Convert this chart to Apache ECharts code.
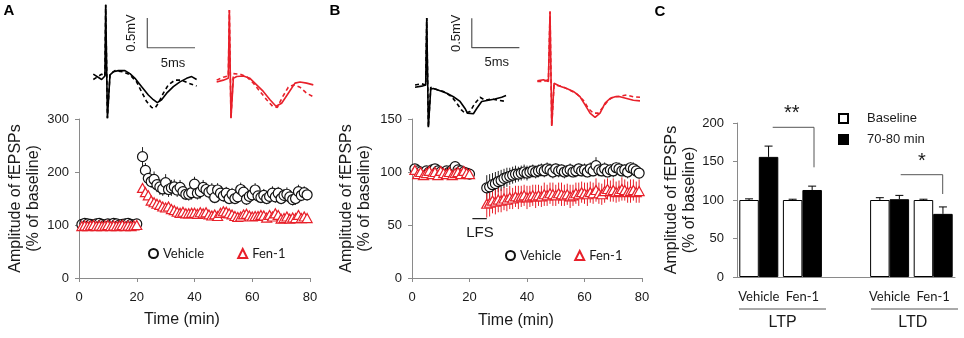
<!DOCTYPE html>
<html><head><meta charset="utf-8">
<script src="https://cdn.jsdelivr.net/npm/echarts@6/dist/echarts.min.js"></script>
<style>html,body{margin:0;padding:0;background:#fff}#c{width:964px;height:338px}</style>
</head><body><div id="c"></div>
<script>
// ---------------- DATA ----------------
const timeBaseline = [1,2,3,4,5,6,7,8,9,10,11,12,13,14,15,16,17,18,19,20];
const timePostA = [22,23,24,25,26,27,28,29,30,31,32,33,34,35,36,37,38,39,40,41,42,43,44,45,46,47,48,49,50,51,52,53,54,55,56,57,58,59,60,61,62,63,64,65,66,67,68,69,70,71,72,73,74,75,76,77,78,79];
const timePostB = [26,27,28,29,30,31,32,33,34,35,36,37,38,39,40,41,42,43,44,45,46,47,48,49,50,51,52,53,54,55,56,57,58,59,60,61,62,63,64,65,66,67,68,69,70,71,72,73,74,75,76,77,78,79];

// Panel A (LTP)
const vehA_base = [101,103,102,101,100,102,103,101,100,102,101,103,102,100,101,102,103,101,100,102];
const vehA_post = [229,203,188,182,186,176,172,168,180,167,
  170,172,166,171,163,158,158,161,177,160,
  163,171,167,162,166,152,166,160,155,160,
  150,158,150,153,167,162,149,154,157,166,
  155,152,156,150,154,160,153,160,150,156,
  158,153,148,150,163,156,161,157];
const vehA_baseErr = [3,4,3,3,4,3,3,4,3,3,4,3,3,4,3,3,4,3,3,4];
const vehA_postErr = [18,14,13,12,15,14,15,13,16,14,
  15,14,13,14,12,11,12,13,14,12,
  13,14,13,12,13,11,13,12,11,12,
  11,12,11,11,13,12,11,12,11,13,
  12,11,12,11,12,13,11,12,11,12,
  13,11,11,12,13,11,12,11];
const fenA_base = [98,99,98,99,100,98,99,98,99,100,98,99,98,99,100,98,99,98,99,100];
const fenA_post = [170,162,156,146,143,140,138,135,133,135,
  130,128,125,123,125,122,122,123,123,121,
  124,122,124,120,118,120,117,123,126,125,
  122,120,117,115,116,120,121,118,116,117,
  117,119,118,114,119,116,122,119,112,113,
  116,112,114,113,119,113,116,113];
const fenA_baseErr = [3,2,3,3,2,3,3,2,3,3,2,3,3,2,3,3,2,3,3,2];
const fenA_postErr = [8,7,6,6,6,5,6,5,5,6,
  5,5,6,5,5,6,5,5,6,5,
  5,6,5,5,6,5,5,6,5,5,
  6,5,5,6,5,5,6,5,5,6,
  5,5,6,5,5,6,5,5,6,5,
  5,6,5,5,6,5,5,6];

// Panel B (LTD)
const vehB_base = [103,101,100,99,101,100,102,103,101,100,99,101,100,102,105,102,101,100,99,98];
const vehB_post = [85,86,88,89,91,92,94,95,96,97,
  98,98,99,100,99,100,101,100,101,102,
  101,103,102,100,103,101,102,100,101,102,
  100,101,103,101,102,100,103,101,106,102,
  101,103,100,102,101,104,103,101,102,100,
  104,103,101,99];
const vehB_baseErr = [3,2,3,2,3,2,3,2,3,2,3,2,3,2,4,3,2,3,2,3];
const vehB_postErr = [12,12,11,11,10,10,9,9,8,8,
  8,7,7,7,7,6,6,6,6,6,
  6,6,6,6,5,6,5,6,5,6,
  5,6,5,5,6,5,6,5,8,6,
  5,6,5,5,6,5,6,5,5,6,
  5,6,5,5];
const fenB_base = [102,98,100,97,99,101,98,100,97,101,99,98,100,97,99,100,98,101,99,98];
const fenB_post = [70,71,73,72,74,73,75,74,76,75,
  77,76,77,78,76,77,78,77,78,77,
  79,78,80,79,78,80,79,78,79,77,
  78,80,79,81,80,79,81,80,83,80,
  79,82,84,82,83,81,82,84,83,81,
  82,83,81,82];
const fenB_baseErr = [4,3,4,3,4,3,4,3,4,3,4,3,4,3,4,3,4,3,4,3];
const fenB_postErr = [13,13,12,12,12,11,11,11,11,10,
  10,11,10,10,11,10,10,11,10,10,
  11,10,10,11,10,10,11,10,10,11,
  10,10,11,10,10,11,10,10,11,10,
  10,11,10,10,11,10,10,11,10,10,
  11,10,10,11];
const lfsTime = [21, 26];
const lfsLevel = [56, 56];

// Panel C (summary bars)
const catsC = ['Vehicle','Fen-1','','Vehicle','Fen-1'];
const baselineC = [100,100,null,100,100];
const baselineErrC = [1.5,1,null,3,1];
const lateC = [156,113,null,101,82];
const lateErrC = [14,5,null,5,9];

// Axis ticks
const ticksA = [0,100,200,300];
const ticksB = [0,50,100,150];
const ticksC = [0,50,100,150,200];
const ticksTime = [0,20,40,60,80];

// Example fEPSP traces, [time (ms), voltage (mV)]
const trA_veh_solid = [[0,0.03],[0.87,-0.06],[1.22,0],[1.30,1.20],[1.48,-0.71],[1.75,0.02],[2.10,0.07],[2.62,0.09],[3.32,0.09],[3.84,0.04],[4.37,-0.04],[5.07,-0.18],[5.77,-0.32],[6.29,-0.40],[6.71,-0.45],[7.16,-0.40],[7.69,-0.29],[8.39,-0.18],[9.08,-0.10],[9.78,-0.04],[10.31,-0.01],[10.83,-0.06]];
const trA_veh_dash = [[0,-0.06],[0.87,0.03],[1.22,0],[1.30,1.20],[1.48,-0.71],[1.75,0.03],[2.27,0.09],[3.14,0.07],[3.84,0.02],[4.54,-0.10],[5.07,-0.27],[5.59,-0.43],[6.12,-0.53],[6.47,-0.54],[6.81,-0.46],[7.34,-0.29],[7.86,-0.15],[8.56,-0.07],[9.26,-0.07],[9.96,-0.12],[10.83,-0.17]];
const trA_fen_solid = [[0,-0.10],[0.70,-0.07],[1.22,-0.04],[1.33,1.11],[1.50,-0.71],[1.75,-0.04],[2.10,-0.01],[2.80,0],[3.49,-0.04],[4.19,-0.15],[4.89,-0.26],[5.59,-0.40],[6.22,-0.51],[6.81,-0.46],[7.51,-0.29],[8.21,-0.12],[8.74,-0.10],[9.43,-0.12],[10.13,-0.15]];
const trA_fen_dash = [[0,-0.07],[0.70,-0.02],[1.22,0],[1.33,1.11],[1.50,-0.71],[1.75,0.04],[2.45,0.03],[3.14,-0.01],[3.84,-0.12],[4.54,-0.26],[5.24,-0.40],[5.87,-0.51],[6.36,-0.53],[6.92,-0.35],[7.51,-0.19],[8.04,-0.15],[8.74,-0.19],[9.43,-0.29],[10.13,-0.35]];
const trB_veh_solid = [[0,-0.04],[0.70,-0.02],[1.12,0],[1.23,1.14],[1.40,-0.72],[1.65,-0.07],[1.93,-0.06],[2.63,-0.10],[3.33,-0.14],[4.03,-0.20],[4.73,-0.28],[5.25,-0.40],[5.50,-0.48],[6.13,-0.49],[6.48,-0.40],[7.00,-0.28],[7.70,-0.26],[8.40,-0.24],[9.10,-0.21],[9.56,-0.18]];
const trB_veh_dash = [[0,0],[0.70,0.02],[1.12,0],[1.23,1.14],[1.40,-0.72],[1.65,-0.04],[2.10,-0.07],[2.98,-0.11],[3.85,-0.20],[4.38,-0.31],[4.90,-0.43],[5.25,-0.48],[5.78,-0.45],[6.30,-0.31],[6.83,-0.21],[7.35,-0.26],[8.05,-0.24],[8.75,-0.26],[9.56,-0.28]];
const trB_fen_solid = [[0,0.07],[0.63,0.09],[1.16,0.06],[1.33,1.25],[1.51,-0.70],[1.75,0.03],[2.38,-0.02],[3.08,-0.06],[3.78,-0.11],[4.48,-0.20],[5.01,-0.34],[5.53,-0.48],[6.06,-0.55],[6.58,-0.48],[7.11,-0.31],[7.63,-0.23],[8.16,-0.20],[8.68,-0.20],[9.38,-0.23],[10.08,-0.26],[10.78,-0.27]];
const trB_fen_dash = [[0,0.06],[0.63,0.06],[1.16,0.09],[1.33,1.25],[1.51,-0.70],[1.75,0],[2.56,-0.02],[3.43,-0.09],[4.13,-0.15],[4.83,-0.26],[5.36,-0.40],[5.88,-0.48],[6.41,-0.48],[6.93,-0.37],[7.46,-0.26],[7.98,-0.20],[8.68,-0.19],[9.38,-0.17],[10.08,-0.20],[10.78,-0.21]];
const scaleBarMs = 5;
const scaleBarMv = 0.5;

// ---------------- LAYOUT / STYLE ----------------
const AX = '#8a8a8a', TXT = '#1a1a1a', RED = '#e8202a';
const ARIAL = 'Liberation Sans', CAL = 'Lato';
const offRedA = 12.93, offRedB = 12.85;          // horizontal placement of 2nd trace
const sbA = [5.66, 0.476], sbB = [5.96, 0.635];  // scale bar corner placement

function zip(t, v, e){ return t.map((x,i)=> e ? [x, v[i], e[i]] : [x, v[i]]); }
function shift(tr, dx){ return tr.map(p=>[p[0]+dx, p[1]]); }

function errSeries(gi, data, color){
  return {type:'custom', xAxisIndex:gi, yAxisIndex:gi, data:data, silent:true, z:2,
    renderItem:(p, api)=>{
      const x=api.value(0), y=api.value(1), e=api.value(2);
      const a=api.coord([x,y+e]), b=api.coord([x,y-e]);
      return {type:'line', shape:{x1:a[0],y1:a[1],x2:b[0],y2:b[1]}, style:{stroke:color, lineWidth:1}};
    }};
}
function markerSeries(gi, name, data, sym, color){
  return {type:'scatter', name:name, xAxisIndex:gi, yAxisIndex:gi, data:data, z:3,
    symbol:sym, symbolSize: sym==='circle'?10:[10,9],
    itemStyle:{color:'#fff', borderColor:color, borderWidth:1.2, opacity:1}};
}
function traceSeries(gi, data, color, dashed){
  return {type:'line', xAxisIndex:gi, yAxisIndex:gi, data:data, showSymbol:false, silent:true,
    lineStyle:{color:color, width:1.6, type: dashed?[4,3]:'solid'}, z:2};
}

const valAxisCommon = {
  axisLine:{show:true, lineStyle:{color:AX, width:1}},
  axisTick:{show:true, length:4, lineStyle:{color:AX}},
  splitLine:{show:false},
  axisLabel:{color:TXT, fontFamily:ARIAL, fontSize:13, margin:10}
};
const yName = 'Amplitude of fEPSPs\n(% of baseline)';
const yNameStyle = {color:TXT, fontFamily:ARIAL, fontSize:16, lineHeight:18};

const chart = echarts.init(document.getElementById('c'), null, {renderer:'canvas', width:964, height:338});

const G = {outerBoundsMode:'none', containLabel:false};
const option = {
  animation:false,
  grid:[
    Object.assign({left:79, top:119, width:231, height:159}, G),
    Object.assign({left:412, top:119, width:230, height:159}, G),
    Object.assign({left:737, top:123, width:218, height:154}, G),
    Object.assign({left:60, top:0, width:270, height:130}, G),
    Object.assign({left:380, top:0, width:270, height:130}, G)
  ],
  xAxis:[
    Object.assign({}, valAxisCommon, {gridIndex:0, type:'value', min:ticksTime[0], max:ticksTime[ticksTime.length-1], interval:ticksTime[1]-ticksTime[0], axisLabel:Object.assign({}, valAxisCommon.axisLabel, {margin:13})}),
    Object.assign({}, valAxisCommon, {gridIndex:1, type:'value', min:ticksTime[0], max:ticksTime[ticksTime.length-1], interval:ticksTime[1]-ticksTime[0], axisLabel:Object.assign({}, valAxisCommon.axisLabel, {margin:13})}),
    {gridIndex:2, type:'category', data:catsC, axisLine:{show:true, lineStyle:{color:AX}}, axisTick:{show:false},
      axisLabel:{color:TXT, fontFamily:CAL, fontSize:13, margin:13, interval:0}},
    {gridIndex:3, type:'value', min:-3.49, max:24.81, show:false},
    {gridIndex:4, type:'value', min:-3.68, max:24.68, show:false}
  ],
  yAxis:[
    Object.assign({}, valAxisCommon, {gridIndex:0, type:'value', min:ticksA[0], max:ticksA[ticksA.length-1], interval:ticksA[1]-ticksA[0],
      name:yName, nameLocation:'middle', nameRotate:90, nameGap:36, nameTextStyle:yNameStyle}),
    Object.assign({}, valAxisCommon, {gridIndex:1, type:'value', min:ticksB[0], max:ticksB[ticksB.length-1], interval:ticksB[1]-ticksB[0],
      name:yName, nameLocation:'middle', nameRotate:90, nameGap:38, nameTextStyle:yNameStyle}),
    Object.assign({}, valAxisCommon, {gridIndex:2, type:'value', min:ticksC[0], max:ticksC[ticksC.length-1], interval:ticksC[1]-ticksC[0],
      name:yName, nameLocation:'middle', nameRotate:90, nameGap:35, nameTextStyle:yNameStyle,
      axisLabel:Object.assign({}, valAxisCommon.axisLabel, {margin:13})}),
    {gridIndex:3, type:'value', min:-0.91, max:1.28, show:false},
    {gridIndex:4, type:'value', min:-0.767, max:1.448, show:false}
  ],
  legend:[
    {left:148, top:247, padding:0, itemWidth:9, itemHeight:9, itemGap:33, textStyle:{fontFamily:CAL, fontSize:13, color:TXT},
      data:[{name:'Vehicle', icon:'circle'},{name:'Fen-1', icon:'triangle'}], selectedMode:false},
    {left:505, top:249, padding:0, itemWidth:9, itemHeight:9, itemGap:13, textStyle:{fontFamily:CAL, fontSize:13, color:TXT},
      data:[{name:'Vehicle', icon:'circle'},{name:'Fen-1', icon:'triangle'}], selectedMode:false},
    {left:838, top:112, padding:0, orient:'vertical', itemWidth:9, itemHeight:9, itemGap:8,
      textStyle:{fontFamily:ARIAL, fontSize:13, color:TXT, padding:[0,0,0,14]},
      data:[{name:'Baseline', icon:'rect'},{name:'70-80 min', icon:'rect'}], selectedMode:false}
  ],
  series:[
    // Panel A
    errSeries(0, zip(timeBaseline, vehA_base, vehA_baseErr).concat(zip(timePostA, vehA_post, vehA_postErr)), '#222'),
    markerSeries(0, 'Vehicle', zip(timeBaseline, vehA_base).concat(zip(timePostA, vehA_post)), 'circle', '#111'),
    errSeries(0, zip(timeBaseline, fenA_base, fenA_baseErr).concat(zip(timePostA, fenA_post, fenA_postErr)), RED),
    markerSeries(0, 'Fen-1', zip(timeBaseline, fenA_base).concat(zip(timePostA, fenA_post)), 'triangle', RED),
    // Panel B
    errSeries(1, zip(timeBaseline, vehB_base, vehB_baseErr).concat(zip(timePostB, vehB_post, vehB_postErr)), '#222'),
    markerSeries(1, 'Vehicle', zip(timeBaseline, vehB_base).concat(zip(timePostB, vehB_post)), 'circle', '#111'),
    errSeries(1, zip(timeBaseline, fenB_base, fenB_baseErr).concat(zip(timePostB, fenB_post, fenB_postErr)), RED),
    markerSeries(1, 'Fen-1', zip(timeBaseline, fenB_base).concat(zip(timePostB, fenB_post)), 'triangle', RED),
    {type:'line', xAxisIndex:1, yAxisIndex:1, data:zip(lfsTime, lfsLevel), showSymbol:false, silent:true,
      lineStyle:{color:'#222', width:1.2}},
    // Panel C
    {type:'bar', name:'Baseline', xAxisIndex:2, yAxisIndex:2, data:baselineC, barWidth:19.5, barGap:'0%',
      itemStyle:{color:'#fff', borderColor:'#000', borderWidth:1}},
    {type:'bar', name:'70-80 min', xAxisIndex:2, yAxisIndex:2, data:lateC, barWidth:19.5, barGap:'0%',
      itemStyle:{color:'#000', borderColor:'#000', borderWidth:1}},
    {type:'custom', xAxisIndex:2, yAxisIndex:2, silent:true, z:5,
      data: catsC.map((c,i)=>[i, baselineC[i], baselineErrC[i], -1]).filter(d=>d[1]!=null)
        .concat(catsC.map((c,i)=>[i, lateC[i], lateErrC[i], 1]).filter(d=>d[1]!=null)),
      renderItem:(p, api)=>{
        const i=api.value(0), v=api.value(1), e=api.value(2), s=api.value(3);
        const half = 19.5/2;
        const a=api.coord([i,v]), b=api.coord([i,v+e]);
        const x=a[0]+s*half;
        return {type:'group', children:[
          {type:'line', shape:{x1:x,y1:a[1],x2:x,y2:b[1]}, style:{stroke:'#000', lineWidth:1}},
          {type:'line', shape:{x1:x-4,y1:b[1],x2:x+4,y2:b[1]}, style:{stroke:'#000', lineWidth:1}}
        ]};
      }},
    // Traces A
    traceSeries(3, trA_veh_dash, '#000', true),
    traceSeries(3, trA_veh_solid, '#000', false),
    traceSeries(3, shift(trA_fen_dash, offRedA), RED, true),
    traceSeries(3, shift(trA_fen_solid, offRedA), RED, false),
    {type:'line', xAxisIndex:3, yAxisIndex:3, showSymbol:false, silent:true, lineStyle:{color:'#555', width:1.2},
      data:[[sbA[0], sbA[1]+scaleBarMv],[sbA[0], sbA[1]],[sbA[0]+scaleBarMs, sbA[1]]]},
    // Traces B
    traceSeries(4, trB_veh_dash, '#000', true),
    traceSeries(4, trB_veh_solid, '#000', false),
    traceSeries(4, shift(trB_fen_dash, offRedB), RED, true),
    traceSeries(4, shift(trB_fen_solid, offRedB), RED, false),
    {type:'line', xAxisIndex:4, yAxisIndex:4, showSymbol:false, silent:true, lineStyle:{color:'#555', width:1.2},
      data:[[sbB[0], sbB[1]+scaleBarMv],[sbB[0], sbB[1]],[sbB[0]+scaleBarMs, sbB[1]]]}
  ],
  graphic:[
    {type:'text', x:9, y:11, style:{text:'A', font:'bold 15px "Liberation Sans"', fill:'#000', align:'center', verticalAlign:'middle'}},
    {type:'text', x:335, y:11, style:{text:'B', font:'bold 15px "Liberation Sans"', fill:'#000', align:'center', verticalAlign:'middle'}},
    {type:'text', x:660, y:12, style:{text:'C', font:'bold 15px "Liberation Sans"', fill:'#000', align:'center', verticalAlign:'middle'}},
    {type:'text', x:131.7, y:33, rotation:Math.PI/2, style:{text:'0.5mV', font:'13px "Liberation Sans"', fill:TXT, align:'center', verticalAlign:'middle'}},
    {type:'text', x:173, y:63, style:{text:'5ms', font:'13px "Liberation Sans"', fill:TXT, align:'center', verticalAlign:'middle'}},
    {type:'text', x:456.7, y:33.3, rotation:Math.PI/2, style:{text:'0.5mV', font:'13px "Liberation Sans"', fill:TXT, align:'center', verticalAlign:'middle'}},
    {type:'text', x:496.7, y:62.7, style:{text:'5ms', font:'13px "Liberation Sans"', fill:TXT, align:'center', verticalAlign:'middle'}},
    {type:'text', x:182, y:320, style:{text:'Time (min)', font:'16px "Liberation Sans"', fill:TXT, align:'center', verticalAlign:'middle'}},
    {type:'text', x:516, y:321, style:{text:'Time (min)', font:'16px "Liberation Sans"', fill:TXT, align:'center', verticalAlign:'middle'}},
    {type:'text', x:480, y:233, style:{text:'LFS', font:'15px "Liberation Sans"', fill:TXT, align:'center', verticalAlign:'middle'}},
    {type:'polyline', shape:{points:[[772.7,127.3],[814,127.3],[814,167.3]]}, style:{stroke:'#555', lineWidth:1, fill:null}},
    {type:'polyline', shape:{points:[[900.7,174.7],[942.7,174.7],[942.7,194]]}, style:{stroke:'#555', lineWidth:1, fill:null}},
    {type:'text', x:791.7, y:113, style:{text:'**', font:'20px "Liberation Sans"', fill:TXT, align:'center', verticalAlign:'middle'}},
    {type:'text', x:922, y:161, style:{text:'*', font:'20px "Liberation Sans"', fill:TXT, align:'center', verticalAlign:'middle'}},
    {type:'line', shape:{x1:739, y1:309, x2:826, y2:309}, style:{stroke:'#555', lineWidth:1}},
    {type:'line', shape:{x1:871, y1:309, x2:958, y2:309}, style:{stroke:'#555', lineWidth:1}},
    {type:'text', x:782.7, y:322.7, style:{text:'LTP', font:'16px "Liberation Sans"', fill:TXT, align:'center', verticalAlign:'middle'}},
    {type:'text', x:912.7, y:322.7, style:{text:'LTD', font:'16px "Liberation Sans"', fill:TXT, align:'center', verticalAlign:'middle'}}
  ]
};
chart.setOption(option);
</script>
</body></html>
